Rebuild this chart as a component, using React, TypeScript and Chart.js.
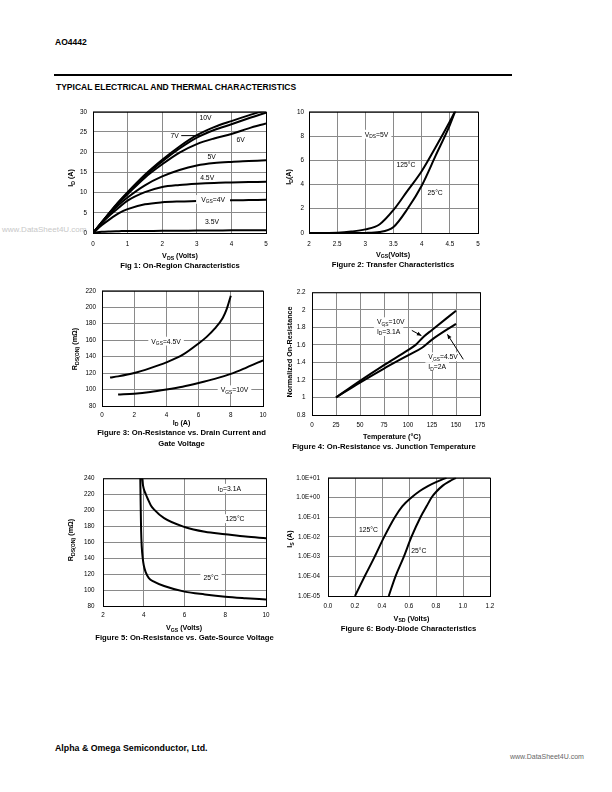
import React, { useEffect, useRef } from 'react';
import { Chart, registerables } from 'chart.js';
Chart.register(...registerables);

const FONT = '"Liberation Sans", Arial, Helvetica, sans-serif';
const TICK_SIZE = 6.3;
const LABEL_SIZE = 6.8;
const PAD_T = 8, PAD_R = 16, PAD_B = 22, PAD_L = 42;

// ---------- Figure 1: On-Region Characteristics ----------
const fig1Vds = [0, 0.25, 0.5, 0.75, 1, 1.5, 2, 2.5, 3, 3.5, 4, 4.5, 5];
const fig1Id10V = [0, 2.6, 5.3, 7.8, 10.1, 14.4, 18.1, 21.4, 24.2, 26.2, 27.7, 29.1, 30.4];
const fig1Id7V = [0, 2.6, 5.2, 7.7, 9.9, 14.1, 17.7, 20.9, 23.6, 25.5, 26.9, 28.4, 29.8];
const fig1Id6V = [0, 2.6, 5.1, 7.5, 9.6, 13.7, 17.0, 19.9, 22.0, 23.4, 24.5, 25.9, 27.1];
const fig1Id5V = [0, 2.5, 4.9, 7.0, 8.8, 11.8, 14.0, 15.6, 16.7, 17.3, 17.6, 17.8, 18.0];
const fig1Id45V = [0, 2.4, 4.5, 6.3, 8.0, 10.1, 11.4, 11.9, 12.2, 12.4, 12.5, 12.6, 12.7];
const fig1Id4V = [0, 1.9, 3.5, 4.9, 5.9, 7.1, 7.6, 7.8, 7.9, 8.0, 8.1, 8.15, 8.2];
const fig1Id35V = [0, 0.3, 0.4, 0.45, 0.5, 0.5, 0.55, 0.55, 0.6, 0.6, 0.65, 0.65, 0.7];
const fig1XTicks = [0, 1, 2, 3, 4, 5];
const fig1XLabels = ['0', '1', '2', '3', '4', '5'];
const fig1YTicks = [0, 5, 10, 15, 20, 25, 30];
const fig1YLabels = ['0', '5', '10', '15', '20', '25', '30'];

// ---------- Figure 2: Transfer Characteristics ----------
const fig2Vgs = [2, 2.5, 2.75, 3, 3.25, 3.5, 3.75, 4, 4.25, 4.5, 4.6];
const fig2Id125 = [0, 0.03, 0.12, 0.3, 0.7, 1.9, 3.5, 5.1, 7.1, 9.2, 10.1];
const fig2Id25 = [0, 0, 0, 0.01, 0.08, 0.5, 2.0, 3.9, 6.4, 8.9, 10.1];
const fig2XTicks = [2, 2.5, 3, 3.5, 4, 4.5, 5];
const fig2XLabels = ['2', '2.5', '3', '3.5', '4', '4.5', '5'];
const fig2YTicks = [0, 2, 4, 6, 8, 10];
const fig2YLabels = ['0', '2', '4', '6', '8', '10'];

// ---------- Figure 3: On-Resistance vs Drain Current ----------
const fig3Id45 = [0.5, 1, 2, 3, 4, 5, 6, 6.5, 7, 7.5, 7.75, 8];
const fig3R45 = [114.5, 116, 120, 126, 133, 142, 156, 164, 174, 187, 198, 214];
const fig3Id10 = [1, 2, 3, 4, 5, 6, 7, 8, 9, 10];
const fig3R10 = [94, 95, 97, 100, 103.5, 108, 113, 119, 127, 135.5];
const fig3XTicks = [0, 2, 4, 6, 8, 10];
const fig3XLabels = ['0', '2', '4', '6', '8', '10'];
const fig3YTicks = [80, 100, 120, 140, 160, 180, 200, 220];
const fig3YLabels = ['80', '100', '120', '140', '160', '180', '200', '220'];

// ---------- Figure 4: Normalized On-Resistance vs Temperature ----------
const fig4T10 = [25, 50, 75, 100, 108, 116, 125, 150];
const fig4R10 = [1, 1.19, 1.37, 1.54, 1.6, 1.69, 1.77, 1.99];
const fig4T45 = [25, 50, 75, 100, 115, 125, 150];
const fig4R45 = [1, 1.17, 1.33, 1.48, 1.57, 1.66, 1.84];
const fig4XTicks = [0, 25, 50, 75, 100, 125, 150, 175];
const fig4XLabels = ['0', '25', '50', '75', '100', '125', '150', '175'];
const fig4YTicks = [0.8, 1, 1.2, 1.4, 1.6, 1.8, 2, 2.2];
const fig4YLabels = ['0.8', '1', '1.2', '1.4', '1.6', '1.8', '2', '2.2'];

// ---------- Figure 5: On-Resistance vs Gate-Source Voltage ----------
const fig5Vgs125 = [3.91, 3.95, 4.0, 4.1, 4.2, 4.35, 4.5, 5, 6, 7, 8, 9, 10];
const fig5R125 = [240, 233, 227, 220, 214, 206, 201, 190, 179, 173, 170, 167, 165];
const fig5Vgs25 = [3.83, 3.85, 3.87, 3.9, 3.95, 4.0, 4.1, 4.25, 4.5, 5, 6, 7, 8, 9, 10];
const fig5R25 = [240, 205, 175, 155, 140, 131, 122, 115, 110.5, 105, 98, 94.5, 91.7, 89.8, 88.2];
const fig5XTicks = [2, 4, 6, 8, 10];
const fig5XLabels = ['2', '4', '6', '8', '10'];
const fig5YTicks = [80, 100, 120, 140, 160, 180, 200, 220, 240];
const fig5YLabels = ['80', '100', '120', '140', '160', '180', '200', '220', '240'];

// ---------- Figure 6: Body-Diode Characteristics ----------
const fig6Vsd125 = [0.2, 0.272, 0.346, 0.416, 0.495, 0.55, 0.618, 0.68, 0.74, 0.8, 0.878];
const fig6Is125 = [1e-5, 1e-4, 1e-3, 1e-2, 1e-1, 0.355, 1, 2.14, 3.8, 6.03, 10];
const fig6Vsd25 = [0.45, 0.5, 0.562, 0.618, 0.685, 0.73, 0.767, 0.8, 0.85, 0.9, 0.948];
const fig6Is25 = [1e-5, 1e-4, 1e-3, 1e-2, 1e-1, 0.355, 1, 1.9, 4, 6.6, 10];
const fig6XTicks = [0, 0.2, 0.4, 0.6, 0.8, 1.0, 1.2];
const fig6XLabels = ['0.0', '0.2', '0.4', '0.6', '0.8', '1.0', '1.2'];
const fig6YTicks = [1e-5, 1e-4, 1e-3, 1e-2, 1e-1, 1, 10];
const fig6YLabels = ['1.0E-05', '1.0E-04', '1.0E-03', '1.0E-02', '1.0E-01', '1.0E+00', '1.0E+01'];

type Lbl = { x: number; y: number; text: string; align?: 'left' | 'center' | 'right'; bg?: boolean; pad?: number };
type Seg = { x1: number; y1: number; x2: number; y2: number; head?: boolean };

const fig1Labels: Lbl[] = [
  { x: 3.25, y: 28.5, text: '10V' },
  { x: 2.48, y: 24.1, text: '7V', align: 'right' },
  { x: 4.27, y: 23.1, text: '6V' },
  { x: 3.43, y: 19, text: '5V' },
  { x: 3.3, y: 13.6, text: '4.5V' },
  { x: 3.47, y: 8.3, text: 'V_{GS}=4V', bg: true, pad: 5 },
  { x: 3.44, y: 2.8, text: '3.5V' },
];
const fig1Segs: Seg[] = [{ x1: 2.55, y1: 24.1, x2: 3.14, y2: 24.1 }];
const fig2Labels: Lbl[] = [
  { x: 3.2, y: 8.15, text: 'V_{DS}=5V', bg: true },
  { x: 3.72, y: 5.63, text: '125°C' },
  { x: 4.24, y: 3.36, text: '25°C' },
];
const fig3Labels: Lbl[] = [
  { x: 3.98, y: 158.8, text: 'V_{GS}=4.5V', bg: true },
  { x: 8.23, y: 99.7, text: 'V_{GS}=10V', bg: true },
];
const fig4Labels: Lbl[] = [
  { x: 67.6, y: 1.864, text: 'V_{GS}=10V', align: 'left', bg: true },
  { x: 67.6, y: 1.752, text: 'I_{D}=3.1A', align: 'left', bg: true },
  { x: 121.2, y: 1.464, text: 'V_{GS}=4.5V', align: 'left', bg: true },
  { x: 121.2, y: 1.352, text: 'I_{D}=2A', align: 'left', bg: true },
];
const fig4Segs: Seg[] = [
  { x1: 104, y1: 1.765, x2: 114, y2: 1.705, head: true },
  { x1: 157.6, y1: 1.435, x2: 141, y2: 1.72, head: true },
];
const fig5Labels: Lbl[] = [
  { x: 8.2, y: 227.5, text: 'I_{D}=3.1A', bg: true },
  { x: 8.48, y: 189.4, text: '125°C', bg: true },
  { x: 7.3, y: 116, text: '25°C', bg: true },
];
const fig6Labels: Lbl[] = [
  { x: 0.3, y: 0.023, text: '125°C', bg: true },
  { x: 0.672, y: 0.002, text: '25°C', bg: true, pad: 1 },
];

function parseRich(s: string) {
  const out: { t: string; sub: boolean }[] = [];
  const re = /_\{([^}]*)\}/g;
  let last = 0;
  let m: RegExpExecArray | null;
  while ((m = re.exec(s))) {
    if (m.index > last) out.push({ t: s.slice(last, m.index), sub: false });
    out.push({ t: m[1], sub: true });
    last = re.lastIndex;
  }
  if (last < s.length) out.push({ t: s.slice(last), sub: false });
  return out;
}

function drawRich(ctx: CanvasRenderingContext2D, s: string, x: number, y: number, size: number, align: string, bg: boolean, pad: number) {
  const parts = parseRich(s);
  const subSize = size * 0.72;
  const ws: number[] = [];
  let w = 0;
  for (const p of parts) {
    ctx.font = `${p.sub ? subSize : size}px ${FONT}`;
    const m = ctx.measureText(p.t).width;
    ws.push(m);
    w += m;
  }
  let sx = align === 'center' ? x - w / 2 : align === 'right' ? x - w : x;
  if (bg) {
    ctx.fillStyle = '#fff';
    ctx.fillRect(sx - pad, y - size * 0.65, w + pad * 2, size * 1.3);
  }
  ctx.fillStyle = '#000';
  ctx.textAlign = 'left';
  ctx.textBaseline = 'alphabetic';
  const base = y + size * 0.36;
  parts.forEach((p, i) => {
    ctx.font = `${p.sub ? subSize : size}px ${FONT}`;
    ctx.fillText(p.t, sx, p.sub ? base + size * 0.22 : base);
    sx += ws[i];
  });
}

function annot(labels: Lbl[], segs: Seg[]) {
  return {
    id: 'annot',
    afterDatasetsDraw(chart: any) {
      const ctx: CanvasRenderingContext2D = chart.ctx;
      const xs = chart.scales.x, ys = chart.scales.y;
      ctx.save();
      for (const l of labels) {
        drawRich(ctx, l.text, xs.getPixelForValue(l.x), ys.getPixelForValue(l.y), LABEL_SIZE, l.align ?? 'center', !!l.bg, l.pad ?? 3);
      }
      for (const s of segs) {
        const x1 = xs.getPixelForValue(s.x1), y1 = ys.getPixelForValue(s.y1);
        const x2 = xs.getPixelForValue(s.x2), y2 = ys.getPixelForValue(s.y2);
        ctx.strokeStyle = '#000';
        ctx.lineWidth = 1;
        ctx.beginPath();
        ctx.moveTo(x1, y1);
        ctx.lineTo(x2, y2);
        ctx.stroke();
        if (s.head) {
          const a = Math.atan2(y2 - y1, x2 - x1);
          const L = 4.5, W = 2;
          ctx.fillStyle = '#000';
          ctx.beginPath();
          ctx.moveTo(x2, y2);
          ctx.lineTo(x2 - L * Math.cos(a) + W * Math.sin(a), y2 - L * Math.sin(a) - W * Math.cos(a));
          ctx.lineTo(x2 - L * Math.cos(a) - W * Math.sin(a), y2 - L * Math.sin(a) + W * Math.cos(a));
          ctx.closePath();
          ctx.fill();
        }
      }
      ctx.restore();
    },
    afterDraw(chart: any) {
      const { left, top, right, bottom } = chart.chartArea;
      const ctx: CanvasRenderingContext2D = chart.ctx;
      ctx.save();
      ctx.strokeStyle = '#000';
      ctx.lineWidth = 1;
      ctx.strokeRect(left + 0.5, top + 0.5, right - left, bottom - top);
      ctx.restore();
    },
  };
}

function series(xs: number[], ys: number[]) {
  return {
    data: xs.map((x, i) => ({ x, y: ys[i] })),
    borderColor: '#000',
    borderWidth: 2,
    pointRadius: 0,
    fill: false,
    cubicInterpolationMode: 'monotone',
  };
}

function axis(type: string, min: number, max: number, ticks: number[], labels: string[], padding: number, isX: boolean) {
  return {
    type,
    min,
    max,
    afterBuildTicks: (s: any) => {
      s.ticks = ticks.map((v) => ({ value: v }));
    },
    afterFit: (s: any) => {
      if (isX) s.height = PAD_B;
      else s.width = PAD_L;
    },
    ticks: {
      autoSkip: false,
      maxRotation: 0,
      minRotation: 0,
      padding,
      color: '#000',
      font: { family: FONT, size: TICK_SIZE },
      callback: (_v: any, i: number) => labels[i],
    },
    grid: { color: '#8a8a8a', lineWidth: 1, drawTicks: false },
    border: { display: false },
  };
}

function makeConfig(datasets: any[], x: any, y: any, labels: Lbl[], segs: Seg[]) {
  return {
    type: 'line',
    data: { datasets },
    options: {
      responsive: false,
      maintainAspectRatio: false,
      animation: false,
      events: [],
      layout: { padding: { top: PAD_T, right: PAD_R, left: 0, bottom: 0 } },
      plugins: { legend: { display: false }, tooltip: { enabled: false } },
      scales: { x, y },
    },
    plugins: [annot(labels, segs)],
  } as any;
}

type Plot = { x: number; y: number; w: number; h: number };

function PlotCanvas({ plot, build }: { plot: Plot; build: () => any }) {
  const ref = useRef<HTMLCanvasElement>(null);
  useEffect(() => {
    const c = new Chart(ref.current as HTMLCanvasElement, build());
    return () => c.destroy();
  }, []);
  const w = plot.w + PAD_L + PAD_R;
  const h = plot.h + PAD_T + PAD_B;
  return (
    <canvas
      ref={ref}
      width={w}
      height={h}
      style={{ position: 'absolute', left: plot.x - PAD_L, top: plot.y - PAD_T, width: w, height: h }}
    />
  );
}

function RichHtml({ text }: { text: string }) {
  return (
    <>
      {parseRich(text).map((p, i) =>
        p.sub ? (
          <span key={i} style={{ fontSize: '0.72em', position: 'relative', top: '0.35em' }}>{p.t}</span>
        ) : (
          <span key={i}>{p.t}</span>
        )
      )}
    </>
  );
}

function Txt({ x, y, text, size, bold = true, rotate = false, anchor = 'center', color = '#000' }: any) {
  const tx = anchor === 'center' ? '-50%' : anchor === 'right' ? '-100%' : '0';
  return (
    <div
      style={{
        position: 'absolute',
        left: x,
        top: y,
        transform: `translate(${tx}, -50%)${rotate ? ' rotate(-90deg)' : ''}`,
        whiteSpace: 'nowrap',
        fontFamily: FONT,
        fontSize: size,
        fontWeight: bold ? 'bold' : 'normal',
        color,
        lineHeight: 1,
      }}
    >
      <RichHtml text={text} />
    </div>
  );
}

const P1: Plot = { x: 93, y: 110, w: 173, h: 123 };
const P2: Plot = { x: 309, y: 111, w: 169, h: 122 };
const P3: Plot = { x: 102, y: 289, w: 161, h: 117 };
const P4: Plot = { x: 312, y: 290, w: 168, h: 125 };
const P5: Plot = { x: 103, y: 474, w: 163, h: 132 };
const P6: Plot = { x: 328, y: 474, w: 162, h: 122 };

const build1 = () =>
  makeConfig(
    [
      series(fig1Vds, fig1Id10V),
      series(fig1Vds, fig1Id7V),
      series(fig1Vds, fig1Id6V),
      series(fig1Vds, fig1Id5V),
      series(fig1Vds, fig1Id45V),
      series(fig1Vds, fig1Id4V),
      series(fig1Vds, fig1Id35V),
    ],
    axis('linear', 0, 5, fig1XTicks, fig1XLabels, 7, true),
    axis('linear', 0, 30, fig1YTicks, fig1YLabels, 6, false),
    fig1Labels,
    fig1Segs
  );
const build2 = () =>
  makeConfig(
    [series(fig2Vgs, fig2Id125), series(fig2Vgs, fig2Id25)],
    axis('linear', 2, 5, fig2XTicks, fig2XLabels, 7.5, true),
    axis('linear', 0, 10, fig2YTicks, fig2YLabels, 5, false),
    fig2Labels,
    []
  );
const build3 = () =>
  makeConfig(
    [series(fig3Id45, fig3R45), series(fig3Id10, fig3R10)],
    axis('linear', 0, 10, fig3XTicks, fig3XLabels, 5.6, true),
    axis('linear', 80, 220, fig3YTicks, fig3YLabels, 6, false),
    fig3Labels,
    []
  );
const build4 = () =>
  makeConfig(
    [series(fig4T10, fig4R10), series(fig4T45, fig4R45)],
    axis('linear', 0, 175, fig4XTicks, fig4XLabels, 6.3, true),
    axis('linear', 0.8, 2.2, fig4YTicks, fig4YLabels, 6.5, false),
    fig4Labels,
    fig4Segs
  );
const build5 = () =>
  makeConfig(
    [series(fig5Vgs125, fig5R125), series(fig5Vgs25, fig5R25)],
    axis('linear', 2, 10, fig5XTicks, fig5XLabels, 5.6, true),
    axis('linear', 80, 240, fig5YTicks, fig5YLabels, 8.5, false),
    fig5Labels,
    []
  );
const build6 = () =>
  makeConfig(
    [series(fig6Vsd125, fig6Is125), series(fig6Vsd25, fig6Is25)],
    axis('linear', 0, 1.2, fig6XTicks, fig6XLabels, 6, true),
    axis('logarithmic', 1e-5, 10, fig6YTicks, fig6YLabels, 8, false),
    fig6Labels,
    []
  );

const FOOTER_TEXT = 'Alpha & Omega Semiconductor, Ltd.';

export default function App() {
  const T = 7.2;
  const C = 7.7;
  return (
    <div style={{ position: 'absolute', left: 0, top: 0, width: 612, height: 792, background: '#fff', overflow: 'hidden' }}>
      <Txt x={2} y={230} text="www.DataSheet4U.com" size={8} bold={false} anchor="left" color="#c8c8c8" />
      <Txt x={55} y={42} text="AO4442" size={8.5} anchor="left" />
      <div style={{ position: 'absolute', left: 54, top: 73.5, width: 458, height: 2, background: '#000' }} />
      <Txt x={56} y={87} text="TYPICAL ELECTRICAL AND THERMAL CHARACTERISTICS" size={8.5} anchor="left" />

      <PlotCanvas plot={P1} build={build1} />
      <PlotCanvas plot={P2} build={build2} />
      <PlotCanvas plot={P3} build={build3} />
      <PlotCanvas plot={P4} build={build4} />
      <PlotCanvas plot={P5} build={build5} />
      <PlotCanvas plot={P6} build={build6} />

      <Txt x={70.5} y={178} text="I_{D} (A)" size={T} rotate />
      <Txt x={180} y={256} text="V_{DS} (Volts)" size={T} />
      <Txt x={180} y={265.5} text="Fig 1: On-Region Characteristics" size={C} />

      <Txt x={288.5} y={177} text="I_{D}(A)" size={T} rotate />
      <Txt x={393} y={254.5} text="V_{GS}(Volts)" size={T} />
      <Txt x={393} y={264.5} text="Figure 2: Transfer Characteristics" size={C} />

      <Txt x={75} y={349} text="R_{DS(ON)} (mΩ)" size={T} rotate />
      <Txt x={181.5} y={422.5} text="I_{D} (A)" size={T} />
      <Txt x={181.5} y={433} text="Figure 3: On-Resistance vs. Drain Current and" size={C} />
      <Txt x={181.5} y={443.5} text="Gate Voltage" size={C} />

      <Txt x={289.5} y={352} text="Normalized On-Resistance" size={T} rotate />
      <Txt x={392} y={436.5} text="Temperature (°C)" size={T} />
      <Txt x={384} y={446.5} text="Figure 4: On-Resistance vs. Junction Temperature" size={C} />

      <Txt x={71} y={540} text="R_{DS(ON)} (mΩ)" size={T} rotate />
      <Txt x={184} y={628} text="V_{GS} (Volts)" size={T} />
      <Txt x={184.5} y={638} text="Figure 5: On-Resistance vs. Gate-Source Voltage" size={C} />

      <Txt x={290} y={539} text="I_{S} (A)" size={T} rotate />
      <Txt x={411.5} y={618.5} text="V_{SD} (Volts)" size={T} />
      <Txt x={408.5} y={628.5} text="Figure 6: Body-Diode Characteristics" size={C} />

      <Txt x={55} y={748} text={FOOTER_TEXT} size={8.8} anchor="left" />
      <Txt x={510} y={756} text="www.DataSheet4U.com" size={7} bold={false} anchor="left" color="#666" />
    </div>
  );
}
